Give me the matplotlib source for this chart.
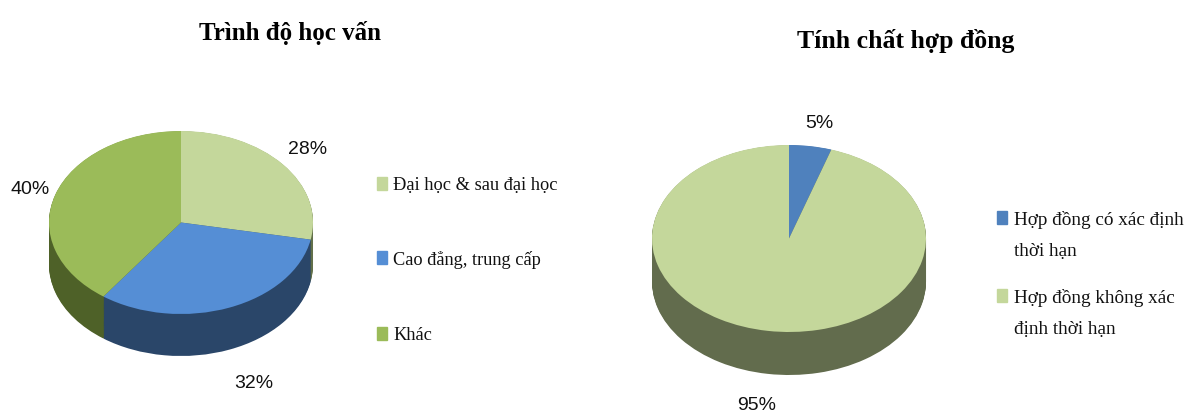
import matplotlib
matplotlib.use("Agg")
import matplotlib.pyplot as plt
import numpy as np

W, H = 1186, 414

# Data pie kiri
edu_labels = ["Đại học & sau đại học", "Cao đẳng, trung cấp", "Khác"]
edu_values = [28, 32, 40]
edu_top = ["#c4d79b", "#558ed5", "#9bbb59"]
edu_side = ["#62704a", "#2a4669", "#4e6128"]

# Data pie kanan
contract_labels = ["Hợp đồng có xác định\nthời hạn", "Hợp đồng không xác\nđịnh thời hạn"]
contract_values = [5, 95]
contract_top = ["#4f81bd", "#c4d79b"]
contract_side = ["#2a4669", "#626c4d"]

plt.rcParams["font.family"] = ["Liberation Serif", "DejaVu Serif"]
fig = plt.figure(figsize=(W / 100, H / 100), dpi=100, facecolor="white")


def pie_3d(values, top, side, x0, x1, y0, y1, depth):
    # y0, y1 = atas dan bawah elips (pixel), depth = tebal pie (pixel)
    ry = (y1 - y0) / 2
    d = depth / ry
    ax = fig.add_axes([x0 / W, 1 - (y1 + depth) / H, (x1 - x0) / W, (y1 + depth - y0) / H])
    for c in np.linspace(d, 0.004, 45):
        ax.pie(values, colors=side, startangle=90, counterclock=False, center=(0, -c), radius=1)
    ax.pie(values, colors=top, startangle=90, counterclock=False, center=(0, 0), radius=1)
    ax.set_aspect("auto")
    ax.set_xlim(-1, 1)
    ax.set_ylim(-1 - d, 1)
    ax.axis("off")


pie_3d(edu_values, edu_top, edu_side, 49, 313, 132, 315, 42)
pie_3d(contract_values, contract_top, contract_side, 652, 926, 146, 333, 43)


def put(x, y, s, **kw):
    fig.text(x / W, 1 - y / H, s, **kw)


# Judul
put(290, 33, "Trình độ học vấn", fontsize=18, fontweight="bold", ha="center", va="center")
put(906, 41, "Tính chất hợp đồng", fontsize=18.5, fontweight="bold", ha="center", va="center")

# Persen
pct = dict(family=["Liberation Sans", "DejaVu Sans"], fontsize=14, ha="center", va="center", color="#111111")
for x, y, v in zip([308, 254, 30], [149, 384, 189], edu_values):
    put(x, y, f"{v}%", **pct)
for x, y, v in zip([819, 757], [123, 406], contract_values):
    put(x, y, f"{v}%", **pct)

# Legend kiri
for y, s, c in zip([184, 258, 334], edu_labels, edu_top):
    fig.patches.append(plt.Rectangle((377 / W, 1 - (y + 6.5) / H), 10 / W, 13 / H, transform=fig.transFigure, color=c))
    put(393, y + 2, s, fontsize=13.2, va="center", ha="left", color="#111111")

# Legend kanan
for y, s, c in zip([218, 296], contract_labels, contract_top):
    fig.patches.append(plt.Rectangle((997 / W, 1 - (y + 6.5) / H), 10 / W, 13 / H, transform=fig.transFigure, color=c))
    put(1014, y - 7, s, fontsize=13.8, va="top", ha="left", linespacing=2.1, color="#111111")

fig.savefig("out.png", dpi=100)
